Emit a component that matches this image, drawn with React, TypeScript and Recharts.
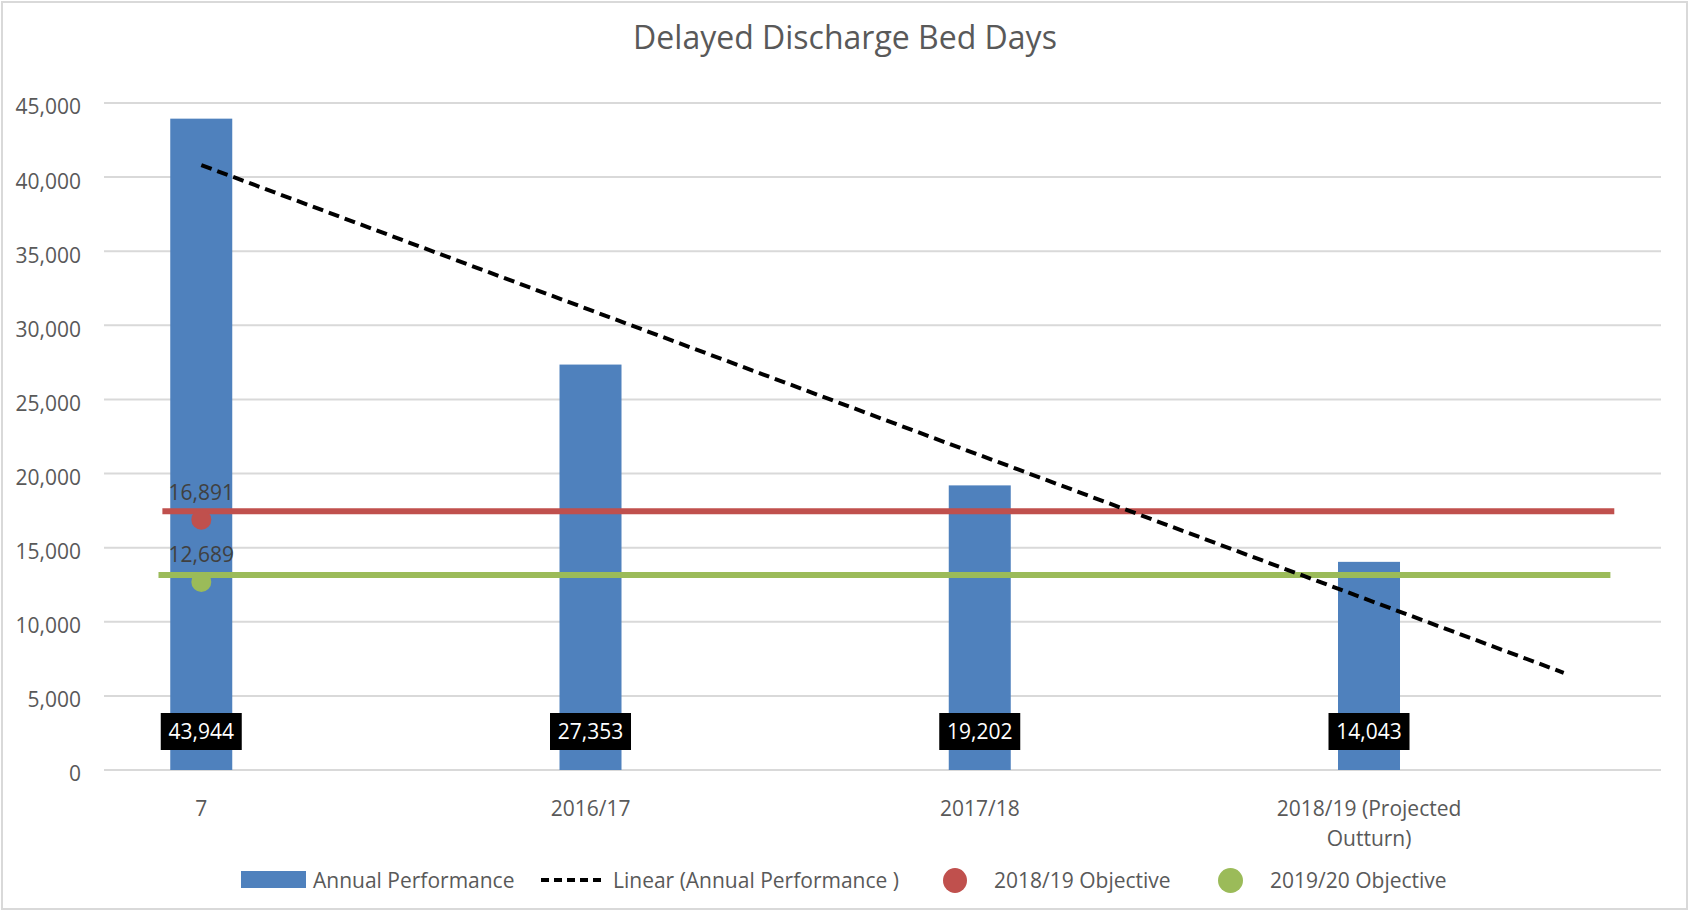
import React from 'react'
import { ComposedChart, Bar, Line, XAxis, YAxis, CartesianGrid, LabelList } from 'recharts'

const BLUE = '#4F81BD'
const RED = '#C0504D'
const GREEN = '#9BBB59'
const TEXT = '#595959'
const GRID = '#D9D9D9'
const FONT = '"Open Sans", sans-serif'

// categories + annual bed days
const CATEGORIES = ['7', '2016/17', '2017/18', '2018/19 (Projected Outturn)']
const ANNUAL = [43944, 27353, 19202, 14043]

// linear trendline (start at first year, runs half a period past the last)
const TREND_X = [0, 3.5]
const TREND_Y = [40810, 6560]

// objectives: point values + the horizontal bars drawn across the plot
const OBJ_1819 = 16891
const OBJ_1920 = 12689
const OBJ_1819_LEVEL = 17450
const OBJ_1920_LEVEL = 13160
const OBJ_1819_SPAN = [-0.1, 3.63]
const OBJ_1920_SPAN = [-0.11, 3.62]

const Y_TICKS = [0, 5000, 10000, 15000, 20000, 25000, 30000, 35000, 40000, 45000]
const X_TICKS = [0, 1, 2, 3]

const barData = ANNUAL.map((v, i) => ({ x: i, value: v }))
const trendData = TREND_X.map((x, i) => ({ x, trend: TREND_Y[i] }))
const red1819Line = OBJ_1819_SPAN.map((x) => ({ x, level: OBJ_1819_LEVEL }))
const green1920Line = OBJ_1920_SPAN.map((x) => ({ x, level: OBJ_1920_LEVEL }))
const red1819Dot = [{ x: 0, obj: OBJ_1819 }]
const green1920Dot = [{ x: 0, obj: OBJ_1920 }]

const BAR_W = 62

const fmt = (v: number) => v.toLocaleString('en-GB')

function XTick(props: any) {
  const { x, y, payload } = props
  const label = CATEGORIES[payload.value] ?? ''
  let lines = [label]
  if (label.length > 12) {
    const cut = label.lastIndexOf(' ')
    lines = [label.slice(0, cut), label.slice(cut + 1)]
  }
  return (
    <text x={x} y={y} textAnchor="middle" fill={TEXT} fontSize={21} fontFamily={FONT}>
      {lines.map((l, i) => (
        <tspan key={i} x={x} dy={i === 0 ? 38 : 30}>{l}</tspan>
      ))}
    </text>
  )
}

// bar width is fixed; numeric axis band gets squeezed by the other series
function FixedBar(props: any) {
  const { x, y, width, height, fill } = props
  const cx = x + width / 2
  return <rect x={cx - BAR_W / 2} y={y} width={BAR_W} height={height} fill={fill} />
}

function BarValueLabel(props: any) {
  const { x, y, width, height, value } = props
  const cx = x + width / 2
  const bottom = y + height
  return (
    <g>
      <rect x={cx - 40.5} y={bottom - 57} width={81} height={37} fill="#000" />
      <text x={cx} y={bottom - 31} textAnchor="middle" fill="#fff" fontSize={21} fontFamily={FONT}>
        {fmt(value)}
      </text>
    </g>
  )
}

function DotLabel(props: any) {
  const { x, y, value } = props
  return (
    <text x={x} y={y - 20} textAnchor="middle" fill="#404040" fontSize={21} fontFamily={FONT}>
      {fmt(value)}
    </text>
  )
}

function Legend() {
  const txt: React.CSSProperties = {
    position: 'absolute', top: 866, fontSize: 21, fontFamily: FONT, color: TEXT, whiteSpace: 'nowrap', lineHeight: '28px',
  }
  return (
    <>
      <div style={{ position: 'absolute', left: 241, top: 871, width: 65, height: 17, background: BLUE }} />
      <div style={{ ...txt, left: 313 }}>Annual Performance</div>
      <div style={{ position: 'absolute', left: 541, top: 878, width: 60, height: 0, borderTop: '4px dashed #000' }} />
      <div style={{ ...txt, left: 613 }}>Linear (Annual Performance )</div>
      <div style={{ position: 'absolute', left: 943, top: 868, width: 24, height: 25, borderRadius: '50%', background: RED }} />
      <div style={{ ...txt, left: 994 }}>2018/19 Objective</div>
      <div style={{ position: 'absolute', left: 1218, top: 868, width: 25, height: 25, borderRadius: '50%', background: GREEN }} />
      <div style={{ ...txt, left: 1270 }}>2019/20 Objective</div>
    </>
  )
}

export default function App() {
  return (
    <div style={{ position: 'absolute', left: 0, top: 0, width: 1690, height: 912, background: '#fff' }}>
      <div style={{ position: 'absolute', left: 1, top: 1, width: 1687, height: 909, border: `2px solid ${GRID}`, boxSizing: 'border-box' }} />
      <div style={{
        position: 'absolute', left: 0, top: 15, width: 1690, textAlign: 'center',
        fontSize: 32, fontFamily: FONT, color: TEXT, lineHeight: '44px',
      }}>
        Delayed Discharge Bed Days
      </div>
      <div style={{ position: 'absolute', left: 0, top: 0 }}>
        <ComposedChart width={1690} height={912} data={barData} margin={{ top: 103, right: 29, bottom: 82, left: 4 }}>
          <CartesianGrid vertical={false} stroke={GRID} strokeWidth={2} />
          <XAxis
            dataKey="x" type="number" domain={[-0.25, 3.75]} ticks={X_TICKS} allowDataOverflow
            height={60} tickLine={false} axisLine={false} tick={<XTick />} interval={0}
          />
          <YAxis
            domain={[0, 45000]} ticks={Y_TICKS} width={100} tickLine={false} axisLine={false}
            tickSize={0} tickMargin={23} tickFormatter={fmt}
            tick={{ fontSize: 21, fill: TEXT, fontFamily: FONT, dy: 4 }}
          />
          <Bar dataKey="value" fill={BLUE} shape={<FixedBar />} isAnimationActive={false}>
            <LabelList dataKey="value" content={<BarValueLabel />} />
          </Bar>
          <Line data={red1819Line} dataKey="level" stroke={RED} strokeWidth={6} dot={false} isAnimationActive={false} />
          <Line data={green1920Line} dataKey="level" stroke={GREEN} strokeWidth={6} dot={false} isAnimationActive={false} />
          <Line data={trendData} dataKey="trend" stroke="#000" strokeWidth={4} strokeDasharray="11 6" dot={false} isAnimationActive={false} />
          <Line data={red1819Dot} dataKey="obj" stroke="none" dot={{ r: 10, fill: RED, stroke: 'none' }} isAnimationActive={false}>
            <LabelList dataKey="obj" content={<DotLabel />} />
          </Line>
          <Line data={green1920Dot} dataKey="obj" stroke="none" dot={{ r: 10, fill: GREEN, stroke: 'none' }} isAnimationActive={false}>
            <LabelList dataKey="obj" content={<DotLabel />} />
          </Line>
        </ComposedChart>
      </div>
      <Legend />
    </div>
  )
}
